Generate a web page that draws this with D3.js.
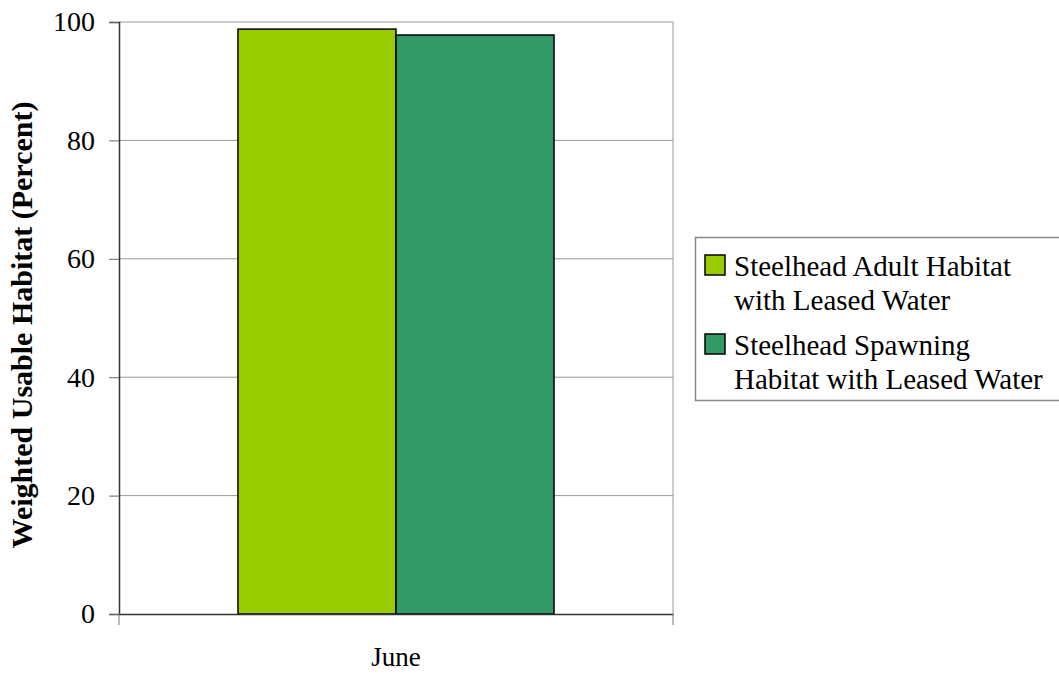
<!DOCTYPE html>
<html><head><meta charset="utf-8">
<script src="https://cdn.jsdelivr.net/npm/d3@7"></script>
<style>body{margin:0;background:#fff}svg{display:block}</style>
</head><body><svg id="c" width="1059" height="675"></svg>
<script>
const categories = ["June"];
const seriesNames = [["Steelhead Adult Habitat", "with Leased Water"], ["Steelhead Spawning", "Habitat with Leased Water"]];
const seriesValues = [[98.8], [97.8]];
const seriesColors = ["#99CC00", "#339966"];
const yTicks = [0, 20, 40, 60, 80, 100];
const yLabel = "Weighted Usable Habitat (Percent)";

const svg = d3.select("#c");
const font = "'Liberation Serif','Times New Roman',serif";
const L = 119, R = 673, T = 22, B = 614;
const x = d3.scaleBand().domain(categories).range([L, R]).paddingInner(0).paddingOuter(0);
const y = d3.scaleLinear().domain([0, 100]).range([B, T]);
const inner = d3.scaleBand().domain(d3.range(seriesValues.length)).range([0, x.bandwidth()]).paddingOuter(0.753).paddingInner(0);

// gridlines
svg.append("g").selectAll("line").data(yTicks.filter(d => d > 0)).join("line")
  .attr("x1", L).attr("x2", R).attr("y1", d => y(d)).attr("y2", d => y(d))
  .attr("stroke", "#999").attr("stroke-width", 1);
svg.append("line").attr("x1", R).attr("x2", R).attr("y1", T).attr("y2", B).attr("stroke", "#999");

// bars
seriesValues.forEach((vals, si) => {
  svg.append("g").selectAll("rect").data(vals).join("rect")
    .attr("x", (d, i) => x(categories[i]) + inner(si))
    .attr("width", inner.bandwidth())
    .attr("y", d => y(d))
    .attr("height", d => y(0) - y(d))
    .attr("fill", seriesColors[si]).attr("stroke", "#000").attr("stroke-width", 1.5);
});

// y axis
const ya = svg.append("g").attr("transform", `translate(${L},0)`)
  .call(d3.axisLeft(y).tickValues(yTicks).tickSize(10).tickPadding(14).tickFormat(d3.format("d")));
ya.select(".domain").attr("stroke", "#333").attr("stroke-width", 1.5);
ya.selectAll(".tick line").attr("stroke", "#666");
ya.selectAll("text").attr("font-family", font).attr("font-size", 28).attr("fill", "#000");

// x axis
const xa = svg.append("g").attr("transform", `translate(0,${B})`)
  .call(d3.axisBottom(x).tickSize(0).tickFormat(""));
xa.select(".domain").attr("stroke", "#333").attr("stroke-width", 1.5);
svg.append("g").selectAll("text").data(categories).join("text")
  .attr("x", d => x(d) + x.bandwidth() / 2).attr("y", 666)
  .attr("text-anchor", "middle").attr("font-family", font).attr("font-size", 27).text(d => d);
svg.append("g").selectAll("line").data([L, R]).join("line")
  .attr("x1", d => d).attr("x2", d => d).attr("y1", B).attr("y2", B + 11)
  .attr("stroke", "#777");

// y label
svg.append("text").attr("transform", `translate(32,325) rotate(-90)`)
  .attr("text-anchor", "middle").attr("font-family", font).attr("font-size", 30)
  .attr("font-weight", "bold").text(yLabel);

// legend
const lg = svg.append("g");
lg.append("rect").attr("x", 695.5).attr("y", 237.5).attr("width", 370).attr("height", 163)
  .attr("fill", "#fff").attr("stroke", "#888").attr("stroke-width", 1.5);
const rowsY = [276, 355];
seriesNames.forEach((lines, i) => {
  lg.append("rect").attr("x", 705).attr("y", rowsY[i] - 21).attr("width", 20).attr("height", 20)
    .attr("fill", seriesColors[i]).attr("stroke", "#000").attr("stroke-width", 1.5);
  lines.forEach((t, j) => {
    lg.append("text").attr("x", 734).attr("y", rowsY[i] + j * 34)
      .attr("font-family", font).attr("font-size", 29).attr("fill", "#000").text(t);
  });
});
</script></body></html>
